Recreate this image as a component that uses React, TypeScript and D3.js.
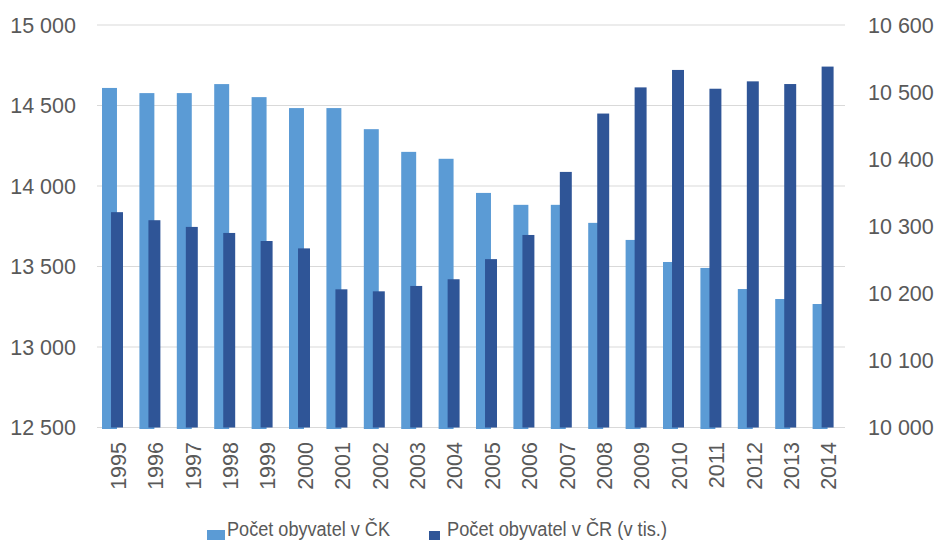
import React from "react";
import * as d3 from "d3";

const years = ["1995","1996","1997","1998","1999","2000","2001","2002","2003","2004","2005","2006","2007","2008","2009","2010","2011","2012","2013","2014"];
const ckPopulation = [14609,14577,14577,14633,14552,14484,14484,14353,14212,14169,13957,13883,13883,13771,13665,13528,13491,13360,13298,13267];
const crPopulation = [10321,10309,10299,10290,10278,10267,10206,10203,10211,10221,10251,10287,10381,10468,10507,10533,10505,10516,10512,10538];
const hiddenSeries = [0,0,0,0,0,0,0,0,0,0,0,0,0,0,0,0,0,0,0,0];
const leftTicks = [12500,13000,13500,14000,14500,15000];
const rightTicks = [10000,10100,10200,10300,10400,10500,10600];
const legendLabels = ["Počet obyvatel v ČK","Počet obyvatel v ČR (v tis.)"];

const W = 937, H = 540;
const plotLeft = 97, plotRight = 845, plotTop = 25, plotBottom = 427.5;
const LIGHT = "#5b9bd5", DARK = "#2f5597", ORANGE = "#ed7d31";
const FONT = "'Liberation Sans', Arial, sans-serif";

const loc = d3.formatLocale({ decimal: ",", thousands: " ", grouping: [3], currency: ["", ""] });
const fmt = loc.format(",d");

export default function App() {
  const x = d3.scaleBand<string>().domain(years).range([plotLeft, plotRight]).padding(0);
  const bw = x.bandwidth();
  const yL = d3.scaleLinear().domain([12500, 15000]).range([plotBottom, plotTop]);
  const yR = d3.scaleLinear().domain([10000, 10600]).range([plotBottom, plotTop]);

  return (
    <svg width={W} height={H} style={{ position: "absolute", left: 0, top: 0, background: "#fff" }}>
      <rect x={0} y={0} width={W} height={H} fill="#fff" />
      {leftTicks.map((t) => (
        <line key={"g" + t} x1={plotLeft} x2={plotRight} y1={yL(t)} y2={yL(t)} stroke="#d9d9d9" strokeWidth={1} />
      ))}
      {leftTicks.map((t) => (
        <text key={"l" + t} x={76} y={yL(t)} dy="0.36em" textAnchor="end" fontFamily={FONT} fontSize={21.5} fill="#595959">
          {fmt(t)}
        </text>
      ))}
      {rightTicks.map((t) => (
        <text key={"r" + t} x={868} y={yR(t)} dy="0.36em" textAnchor="start" fontFamily={FONT} fontSize={21.5} fill="#595959">
          {fmt(t)}
        </text>
      ))}
      {years.map((yr, i) => {
        const x0 = x(yr)!;
        const top = yL(ckPopulation[i]);
        return (
          <rect key={"ck" + yr} x={x0 + bw * 0.134} width={bw * 0.4} y={top} height={plotBottom + 1.5 - top} fill={LIGHT} />
        );
      })}
      {years.map((yr, i) => {
        const x0 = x(yr)!;
        const top = yR(crPopulation[i]);
        return (
          <rect key={"cr" + yr} x={x0 + bw * 0.375} width={bw * 0.32} y={top} height={plotBottom - top} fill={DARK} />
        );
      })}
      {years.map((yr, i) => {
        const x0 = x(yr)!;
        return (
          <rect key={"h" + yr} x={x0 + bw * 0.615} width={bw * 0.21} y={yR(hiddenSeries[i]) + 0.5} height={1.5} fill={ORANGE} />
        );
      })}
      {years.map((yr) => {
        const cx = x(yr)! + bw / 2 + 2.3;
        return (
          <text key={"x" + yr} transform={`translate(${cx},442) rotate(-90)`} textAnchor="end" dy="0.36em" fontFamily={FONT} fontSize={21.5} fill="#595959">
            {yr}
          </text>
        );
      })}
      <rect x={207} y={530} width={18} height={12} fill={LIGHT} />
      <text x={227} y={535.5} fontFamily={FONT} fontSize={20} fill="#595959" textLength={163} lengthAdjust="spacingAndGlyphs">
        {legendLabels[0]}
      </text>
      <rect x={429} y={531} width={11} height={11} fill={DARK} />
      <text x={447} y={535.5} fontFamily={FONT} fontSize={20} fill="#595959" textLength={220} lengthAdjust="spacingAndGlyphs">
        {legendLabels[1]}
      </text>
    </svg>
  );
}
